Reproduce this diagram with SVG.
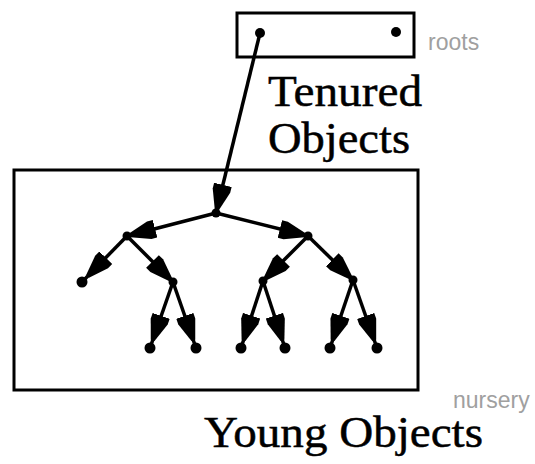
<svg xmlns="http://www.w3.org/2000/svg" width="535" height="464" viewBox="0 0 535 464">
<style>
.box{fill:none;stroke:#000;stroke-width:3}
.edge{fill:none;stroke:#000;stroke-width:3.5;marker-end:url(#ah)}
.leaf{fill:none;stroke:#000;stroke-width:3.5;marker-end:url(#ahl)}
.dot{fill:#000}
.big{font-family:"Liberation Serif","Times New Roman",serif;font-size:45px;fill:#000;stroke:#000;stroke-width:0.5}
.lbl{font-family:"Liberation Sans",Arial,sans-serif;font-size:23px;fill:#a0a0a0}
</style>
<defs>
<marker id="ah" markerUnits="userSpaceOnUse" viewBox="0 -10 30 20" refX="29" refY="0" markerWidth="30" markerHeight="20" orient="auto">
<path d="M0,-9 L6,-9 L26,-2 L26,2 L6,9 L0,9 z" fill="#000"/>
</marker>
<marker id="ahl" markerUnits="userSpaceOnUse" viewBox="0 -10 36 20" refX="34" refY="0" markerWidth="36" markerHeight="20" orient="auto">
<path d="M0,-9 L6,-9 L26,-2 L26,2 L6,9 L0,9 z" fill="#000"/>
</marker>
</defs>
<rect width="535" height="464" fill="#fff"/>
<g id="roots">
<rect class="box" x="237" y="13" width="177" height="44"/>
<circle class="dot" cx="260" cy="33" r="5"/>
<circle class="dot" cx="396" cy="32" r="5"/>
<text class="lbl" x="428" y="50">roots</text>
</g>
<g id="tenured-label">
<text class="big" x="268" y="106" font-size="42" textLength="154" lengthAdjust="spacingAndGlyphs">Tenured</text>
<text class="big" x="268" y="153" font-size="42" textLength="142" lengthAdjust="spacingAndGlyphs">Objects</text>
</g>
<g id="nursery">
<rect class="box" x="14" y="170" width="404" height="220"/>
<text class="lbl" x="453" y="408">nursery</text>
<text class="big" x="204" y="447" textLength="279" lengthAdjust="spacingAndGlyphs">Young Objects</text>
</g>
<g id="nodes">
<circle id="n0" class="dot" cx="216" cy="213" r="4.5"/>
<circle id="n1" class="dot" cx="127" cy="236" r="4.5"/>
<circle id="n2" class="dot" cx="308" cy="236" r="4.5"/>
<circle id="n3" class="dot" cx="82" cy="282" r="5.5"/>
<circle id="n4" class="dot" cx="173" cy="282" r="4.5"/>
<circle id="n5" class="dot" cx="263" cy="281" r="4.5"/>
<circle id="n6" class="dot" cx="353" cy="280" r="4.5"/>
<circle id="n7" class="dot" cx="150" cy="348" r="5.5"/>
<circle id="n8" class="dot" cx="196" cy="348" r="5.5"/>
<circle id="n9" class="dot" cx="241" cy="348" r="5.5"/>
<circle id="n10" class="dot" cx="285" cy="348" r="5.5"/>
<circle id="n11" class="dot" cx="330" cy="348" r="5.5"/>
<circle id="n12" class="dot" cx="377" cy="348" r="5.5"/>
</g>
<g id="connectors">
<line class="edge" x1="260" y1="33" x2="216" y2="213"/>
<line class="edge" x1="216" y1="213" x2="127" y2="236"/>
<line class="edge" x1="216" y1="213" x2="308" y2="236"/>
<line class="leaf" x1="127" y1="236" x2="82" y2="282"/>
<line class="edge" x1="127" y1="236" x2="173" y2="282"/>
<line class="edge" x1="308" y1="236" x2="263" y2="281"/>
<line class="edge" x1="308" y1="236" x2="353" y2="280"/>
<line class="leaf" x1="173" y1="282" x2="150" y2="348"/>
<line class="leaf" x1="173" y1="282" x2="196" y2="348"/>
<line class="leaf" x1="263" y1="281" x2="241" y2="348"/>
<line class="leaf" x1="263" y1="281" x2="285" y2="348"/>
<line class="leaf" x1="353" y1="280" x2="330" y2="348"/>
<line class="leaf" x1="353" y1="280" x2="377" y2="348"/>
</g>
</svg>
